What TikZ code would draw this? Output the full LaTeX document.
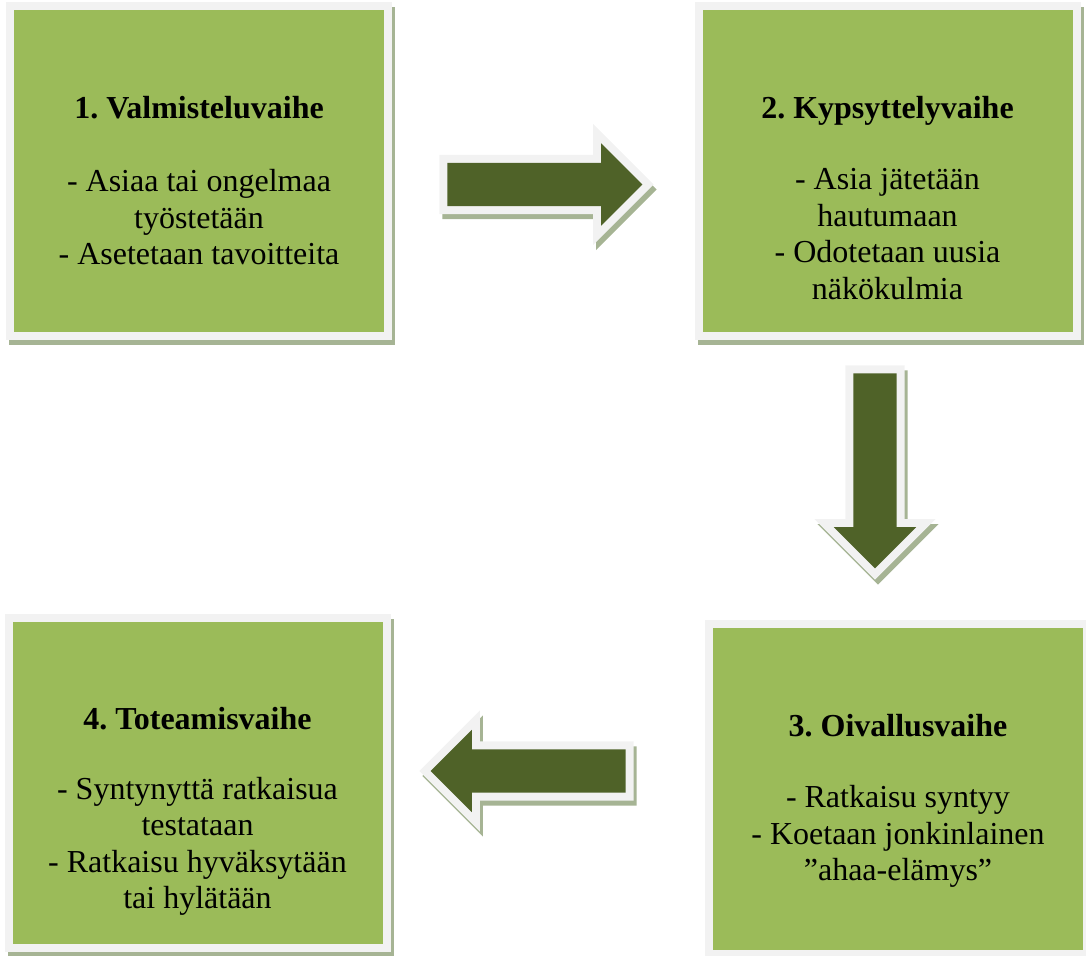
\documentclass[tikz,border=0pt]{standalone}
\usepackage{fontspec}
\setmainfont{Liberation Serif}
\usetikzlibrary{positioning,shapes.arrows}
\definecolor{phasegreen}{HTML}{9BBB59}
\definecolor{phaseframe}{HTML}{F2F2F2}
\definecolor{phaseshadow}{HTML}{A6B494}
\definecolor{arrowgreen}{HTML}{4F6228}
\frenchspacing

\begin{document}
\begin{tikzpicture}[x=1pt,y=-1pt,
    phase node/.style={rectangle,fill=phasegreen,minimum width=370pt,minimum height=322pt,
      preaction={draw=phaseshadow,line width=16pt,transform canvas={xshift=3pt,yshift=-5pt}},
      preaction={draw=phaseframe,line width=16pt}},
    phase text/.style={align=center,inner sep=0pt,font=\fontsize{32}{36.5}\selectfont},
    arrow node/.style={single arrow,fill=arrowgreen,minimum height=195pt,
      inner xsep=0pt,inner ysep=21.5pt,single arrow head extend=19.5pt,
      preaction={draw=phaseshadow,line width=16pt,transform canvas={xshift=3pt,yshift=-5pt}},
      preaction={draw=phaseframe,line width=16pt}}]
    \useasboundingbox (0,0) rectangle (1086,955);
    % the four phases
    \node[phase node] (valmistelu) at (199,171) {};
    \node[phase node] (kypsyttely) at (887.5,171) {};
    \node[phase node] (oivallus) at (898,789) {};
    \node[phase node] (toteamis) at (197.5,782.5) {};
    \node[phase text, below=86pt of valmistelu.north] (valmistelu_txt)
      {\textbf{1. Valmisteluvaihe}\\[37pt]- Asiaa tai ongelmaa\\työstetään\\- Asetetaan tavoitteita};
    \node[phase text, below=86pt of kypsyttely.north] (kypsyttely_txt)
      {\textbf{2. Kypsyttelyvaihe}\\[35pt]- Asia jätetään\\hautumaan\\- Odotetaan uusia\\näkökulmia};
    \node[phase text, below=86pt of oivallus.north] (oivallus_txt)
      {\textbf{3. Oivallusvaihe}\\[35pt]- Ratkaisu syntyy\\- Koetaan jonkinlainen\\”ahaa-elämys”};
    \node[phase text, below=86pt of toteamis.north] (toteamis_txt)
      {\textbf{4. Toteamisvaihe}\\[33pt]- Syntynyttä ratkaisua\\testataan\\- Ratkaisu hyväksytään\\tai hylätään};
    % block arrows between the phases
    \node[arrow node] (arrow_12) at (534,184.5) {};
    \node[arrow node, rotate=-90] (arrow_23) at (875,460) {};
    \node[arrow node, rotate=180] (arrow_34) at (539,771) {};
  \end{tikzpicture}
\end{document}
